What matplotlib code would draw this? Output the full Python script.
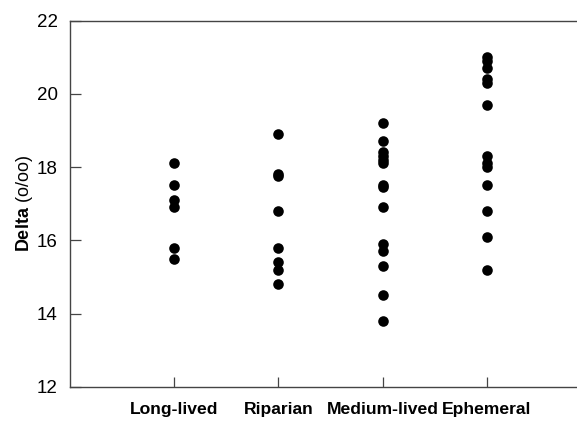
import matplotlib
matplotlib.use("Agg")
import matplotlib.pyplot as plt

plt.rcParams['font.family'] = ['Liberation Sans', 'DejaVu Sans']
plt.rcParams['mathtext.fontset'] = 'custom'
plt.rcParams['mathtext.rm'] = 'Liberation Sans'
plt.rcParams['mathtext.bf'] = 'Liberation Sans:bold'

categories = ["Long-lived", "Riparian", "Medium-lived", "Ephemeral"]
long_lived = [18.1, 17.5, 17.1, 16.9, 15.8, 15.5]
riparian = [18.9, 17.8, 17.75, 16.8, 15.8, 15.4, 15.2, 14.8]
medium_lived = [19.2, 18.7, 18.4, 18.3, 18.2, 18.1, 17.5, 17.45, 16.9,
                15.9, 15.7, 15.3, 14.5, 13.8]
ephemeral = [21.0, 20.9, 20.7, 20.4, 20.3, 19.7, 18.3, 18.1, 18.0,
             17.5, 16.8, 16.1, 15.2]
series = [long_lived, riparian, medium_lived, ephemeral]
yticks = [12, 14, 16, 18, 20, 22]

fig = plt.figure(figsize=(5.77, 4.23), dpi=100)
ax = fig.add_axes([70 / 577, 1 - 386.7 / 423, 1 - 70 / 577, (386.7 - 20.7) / 423])

for i, vals in enumerate(series):
    ax.scatter([i + 1] * len(vals), vals, s=58, color='black', zorder=3,
               linewidths=0)

ax.set_xlim(0, (577 - 70) / 104.2)
ax.set_ylim(12, 22)
ax.set_yticks(yticks)
ax.set_xticks(range(1, len(categories) + 1))
ax.set_xticklabels(categories, fontsize=12.6, fontweight='bold')
ax.tick_params(axis='y', direction='in', length=8, width=0.9, labelsize=13.5,
               pad=9, color='#444444')
ax.tick_params(axis='x', direction='in', length=7, width=0.9, pad=11,
               color='#444444')
ax.spines['right'].set_visible(False)
for s in ['left', 'bottom', 'top']:
    ax.spines[s].set_color('#444444')
    ax.spines[s].set_linewidth(1.0)

ax.set_ylabel(r"$\bf{Delta}$ (o/oo)", fontsize=13)
ax.yaxis.set_label_coords(-0.07, 0.5)

fig.savefig("out.png", dpi=100)
